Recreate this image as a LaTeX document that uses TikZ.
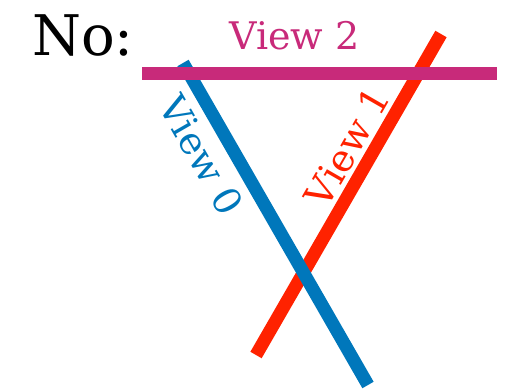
\documentclass[tikz,border=0pt]{standalone}
\usepackage{fontspec}
\setmainfont{DejaVu Serif}
\usetikzlibrary{positioning}

\definecolor{viewblue}{RGB}{0,119,187}
\definecolor{viewred}{RGB}{255,34,0}
\definecolor{viewmag}{RGB}{200,42,122}

\begin{document}
\begin{tikzpicture}[
        x=1pt, y=-1pt,
        view/.style={line width=13pt},
        lbl/.style={font=\fontsize{38}{38}\selectfont, inner sep=1pt, sloped}
    ]
    \useasboundingbox (0,0) rectangle (509,389);

    \node[anchor=base west, font=\fontsize{56}{56}\selectfont, inner sep=0pt] (no) at (32,55) {No:};

    % end points of the three views
    \coordinate (v1a) at (256,355);
    \coordinate (v1b) at (441,34);
    \coordinate (v0a) at (183,63);
    \coordinate (v0b) at (368,385);
    \coordinate (v2a) at (142,73);
    \coordinate (v2b) at (497,73);

    \draw[view, viewred] (v1a) -- node[lbl, pos=0.61, above=3pt, text=viewred] (lbl1) {View 1} (v1b);
    \draw[view, viewblue] (v0a) -- node[lbl, pos=0.24, below=8pt, text=viewblue] (lbl0) {View 0} (v0b);
    \draw[view, viewmag] (v2a) -- node[lbl, pos=0.43, above=15pt, text=viewmag] (lbl2) {View 2} (v2b);
\end{tikzpicture}
\end{document}
